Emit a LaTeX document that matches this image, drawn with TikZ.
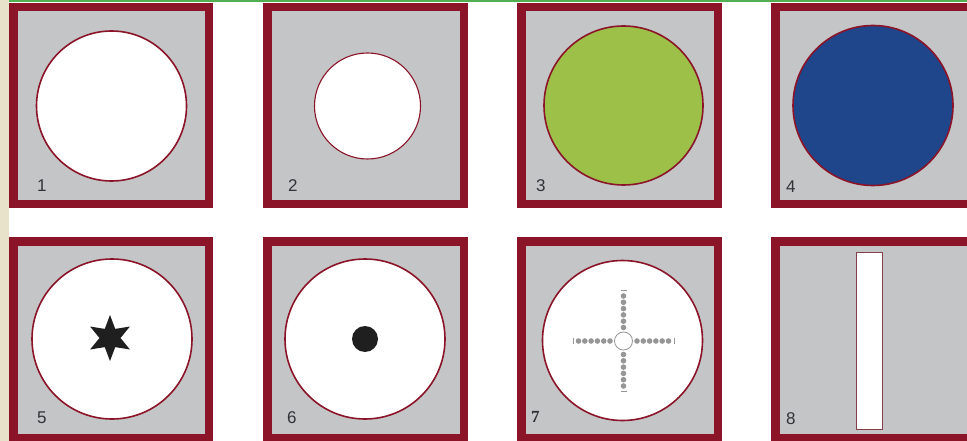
\documentclass[tikz,border=0pt]{standalone}
\usepackage{fontspec}
\setmainfont{Liberation Sans}
\newfontfamily\serifdigit{Liberation Serif}
\usetikzlibrary{calc}
\definecolor{framered}{RGB}{139,20,40}
\definecolor{panelgray}{RGB}{196,197,199}
\definecolor{leafgreen}{RGB}{157,192,73}
\definecolor{deepblue}{RGB}{31,69,138}
\definecolor{beige}{RGB}{232,226,202}
\definecolor{topgreen}{RGB}{80,175,80}
\definecolor{dotgray}{RGB}{150,150,150}
\definecolor{digitgray}{RGB}{50,50,55}
\begin{document}
\begin{tikzpicture}[x=1pt,y=-1pt,
  panel/.style={fill=panelgray,draw=framered,line width=8.5pt},
  disc/.style={circle,draw=framered,line width=1.6pt,inner sep=0pt,fill=white},
  num/.style={anchor=base west,inner sep=0pt,font=\fontsize{17}{17}\selectfont,text=digitgray},
  dot/.style={circle,fill=dotgray,inner sep=0pt,minimum size=5.6pt},
  tick/.style={draw=dotgray,line width=0.8pt}]
\useasboundingbox (0,0) rectangle (967,441);
\clip (0,0) rectangle (967,441);
\fill[white] (0,0) rectangle (967,441);
\fill[beige] (0,0) rectangle (9,441);
\fill[topgreen] (9,0) rectangle (967,2);
% panels
\path[panel] (13.25,7.25) rectangle (208.75,203.75);
\path[panel] (267.25,7.25) rectangle (463.75,203.75);
\path[panel] (521.25,7.25) rectangle (717.75,203.75);
\path[panel] (775.25,7.25) rectangle (971.75,203.75);
\path[panel] (13.25,241.25) rectangle (208.75,437.75);
\path[panel] (267.25,241.25) rectangle (463.75,437.75);
\path[panel] (521.25,241.25) rectangle (717.75,437.75);
\path[panel] (775.25,241.25) rectangle (971.75,437.75);
% circles
\node[disc,minimum size=150pt] (c1) at (111.5,106) {};
\node[disc,minimum size=106pt,line width=1.1pt] (c2) at (367.5,106) {};
\node[disc,minimum size=159pt,fill=leafgreen] (c3) at (623.5,105.5) {};
\node[disc,minimum size=160pt,fill=deepblue] (c4) at (873,105.5) {};
\node[disc,minimum size=160pt] (c5) at (112,339) {};
\node[disc,minimum size=160pt] (c6) at (365,339) {};
\node[disc,minimum size=160pt] (c7) at (622.5,340.5) {};
% star (panel 5)
\fill[black!88,shift={(110,338)}] (90:23) -- (120:10.5) -- (150:23) -- (180:10.5) -- (210:23) -- (240:10.5)
  -- (270:23) -- (300:10.5) -- (330:23) -- (0:10.5) -- (30:23) -- (60:10.5) -- cycle;
% dot (panel 6)
\node[circle,fill=black!88,inner sep=0pt,minimum size=26pt] (d6) at (365,339) {};
% cross (panel 7)
\node[circle,draw=dotgray,fill=white,line width=0.8pt,inner sep=0pt,minimum size=18pt] (hub) at (623.5,341) {};
\foreach \k in {0,...,5} {
  \node[dot] at ($(hub)+({13.5+6.3*\k},0)$) {};
  \node[dot] at ($(hub)+({-13.5-6.3*\k},0)$) {};
  \node[dot] at ($(hub)+(0,{13.5+6.3*\k})$) {};
  \node[dot] at ($(hub)+(0,{-13.5-6.3*\k})$) {};
}
\draw[tick] ($(hub)+(-50.5,-3)$) -- ++(0,6);
\draw[tick] ($(hub)+(50.5,-3)$) -- ++(0,6);
\draw[tick] ($(hub)+(-3,-50.5)$) -- ++(6,0);
\draw[tick] ($(hub)+(-3,50.5)$) -- ++(6,0);
% slot (panel 8)
\node[draw=framered!60!gray,fill=white,line width=0.8pt,inner sep=0pt,minimum width=26pt,minimum height=177pt] (slot) at (869,340.5) {};
% numbers
\node[num] (n1) at (37,192) {1};
\node[num] (n2) at (288,192) {2};
\node[num] (n3) at (536,192) {3};
\node[num] (n4) at (786,193) {4};
\node[num] (n5) at (37,423) {5};
\node[num] (n6) at (287,423) {6};
\node[num,font=\serifdigit\bfseries\fontsize{17}{17}\selectfont] (n7) at (531,422) {7};
\node[num] (n8) at (786,424) {8};
\end{tikzpicture}
\end{document}
